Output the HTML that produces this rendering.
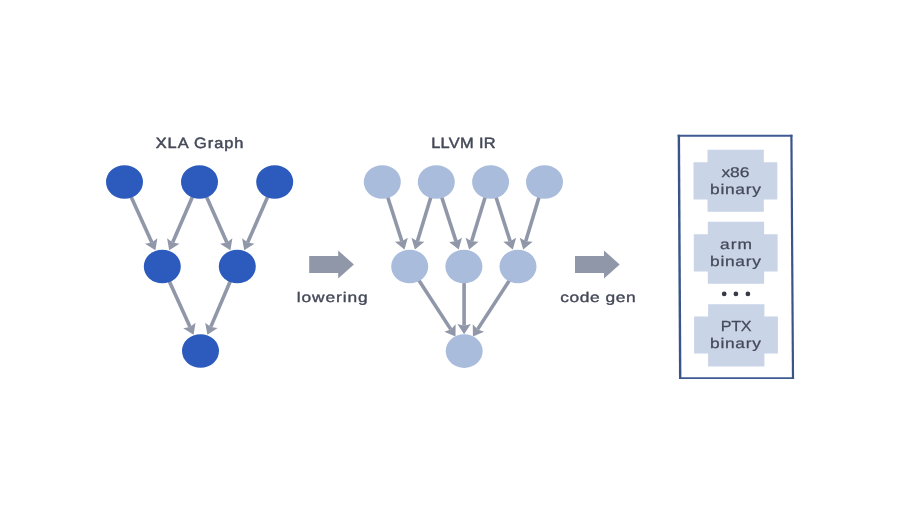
<!DOCTYPE html>
<html><head><meta charset="utf-8"><title>XLA compilation</title>
<style>
html,body{margin:0;padding:0;background:#fff;}
body{width:900px;height:507px;overflow:hidden;}
svg{display:block;}
text{font-family:"Liberation Sans",sans-serif;text-rendering:geometricPrecision;fill:#444958;stroke:#444958;stroke-width:0.45;stroke-linejoin:round;}
.t{will-change:transform;}
</style></head><body>
<svg width="900" height="507" viewBox="0 0 900 507">
<rect width="900" height="507" fill="#ffffff"/>
<line x1="130.74" y1="196.00" x2="151.84" y2="242.47" stroke="#9097a8" stroke-width="3.6"/><polygon points="155.40,250.30 145.04,243.80 151.84,242.47 157.33,238.22" fill="#9097a8"/>
<line x1="192.80" y1="196.00" x2="172.63" y2="242.41" stroke="#9097a8" stroke-width="3.6"/><polygon points="169.20,250.30 167.08,238.25 172.63,242.41 179.46,243.64" fill="#9097a8"/>
<line x1="206.16" y1="196.00" x2="226.89" y2="242.45" stroke="#9097a8" stroke-width="3.6"/><polygon points="230.40,250.30 220.08,243.74 226.89,242.45 232.41,238.23" fill="#9097a8"/>
<line x1="268.02" y1="196.00" x2="247.65" y2="242.42" stroke="#9097a8" stroke-width="3.6"/><polygon points="244.20,250.30 242.12,238.25 247.65,242.42 254.48,243.67" fill="#9097a8"/>
<line x1="168.94" y1="280.50" x2="190.04" y2="326.97" stroke="#9097a8" stroke-width="3.6"/><polygon points="193.60,334.80 183.24,328.30 190.04,326.97 195.53,322.72" fill="#9097a8"/>
<line x1="230.58" y1="280.50" x2="210.78" y2="326.89" stroke="#9097a8" stroke-width="3.6"/><polygon points="207.40,334.80 205.20,322.77 210.78,326.89 217.61,328.07" fill="#9097a8"/>
<ellipse cx="124.5" cy="182" rx="18.5" ry="16.8" fill="#2c5bbd"/>
<ellipse cx="199.5" cy="182" rx="18.5" ry="16.8" fill="#2c5bbd"/>
<ellipse cx="274.7" cy="182" rx="18.5" ry="16.8" fill="#2c5bbd"/>
<ellipse cx="162.3" cy="266.5" rx="18.5" ry="16.8" fill="#2c5bbd"/>
<ellipse cx="237.3" cy="266.5" rx="18.5" ry="16.8" fill="#2c5bbd"/>
<ellipse cx="200.5" cy="351" rx="18.5" ry="16.8" fill="#2c5bbd"/>
<line x1="387.34" y1="196.00" x2="401.87" y2="241.31" stroke="#9097a8" stroke-width="3.6"/><polygon points="404.50,249.50 394.96,241.85 401.87,241.31 407.81,237.73" fill="#9097a8"/>
<line x1="431.21" y1="196.00" x2="417.41" y2="241.27" stroke="#9097a8" stroke-width="3.6"/><polygon points="414.90,249.50 411.42,237.77 417.41,241.27 424.33,241.71" fill="#9097a8"/>
<line x1="441.33" y1="196.00" x2="456.04" y2="241.32" stroke="#9097a8" stroke-width="3.6"/><polygon points="458.70,249.50 449.13,241.88 456.04,241.32 461.97,237.71" fill="#9097a8"/>
<line x1="485.52" y1="196.00" x2="471.62" y2="241.28" stroke="#9097a8" stroke-width="3.6"/><polygon points="469.10,249.50 465.64,237.77 471.62,241.28 478.55,241.73" fill="#9097a8"/>
<line x1="495.64" y1="196.00" x2="510.17" y2="241.31" stroke="#9097a8" stroke-width="3.6"/><polygon points="512.80,249.50 503.26,241.85 510.17,241.31 516.11,237.73" fill="#9097a8"/>
<line x1="539.41" y1="196.00" x2="525.69" y2="241.27" stroke="#9097a8" stroke-width="3.6"/><polygon points="523.20,249.50 519.70,237.78 525.69,241.27 532.62,241.70" fill="#9097a8"/>
<line x1="417.70" y1="278.40" x2="450.82" y2="329.39" stroke="#9097a8" stroke-width="3.6"/><polygon points="455.50,336.60 444.28,331.72 450.82,329.39 455.61,324.37" fill="#9097a8"/>
<line x1="464.10" y1="280.00" x2="464.10" y2="325.70" stroke="#9097a8" stroke-width="3.6"/><polygon points="464.10,334.30 457.35,324.10 464.10,325.70 470.85,324.10" fill="#9097a8"/>
<line x1="510.70" y1="278.40" x2="477.58" y2="329.39" stroke="#9097a8" stroke-width="3.6"/><polygon points="472.90,336.60 472.79,324.37 477.58,329.39 484.12,331.72" fill="#9097a8"/>
<ellipse cx="382.3" cy="182" rx="18.5" ry="16.8" fill="#a9bcdc"/>
<ellipse cx="436.3" cy="182" rx="18.5" ry="16.8" fill="#a9bcdc"/>
<ellipse cx="490.6" cy="182" rx="18.5" ry="16.8" fill="#a9bcdc"/>
<ellipse cx="544.5" cy="182" rx="18.5" ry="16.8" fill="#a9bcdc"/>
<ellipse cx="409.7" cy="266.5" rx="18.5" ry="16.8" fill="#a9bcdc"/>
<ellipse cx="463.9" cy="266.5" rx="18.5" ry="16.8" fill="#a9bcdc"/>
<ellipse cx="518" cy="266.5" rx="18.5" ry="16.8" fill="#a9bcdc"/>
<ellipse cx="464.2" cy="351.1" rx="18.5" ry="16.8" fill="#a9bcdc"/>
<polygon points="309.2,256 338.2,256 338.2,250.5 353.9,264.5 338.2,278.6 338.2,273 309.2,273" fill="#9097a8"/>
<polygon points="575.0,256 604.0,256 604.0,250.5 619.7,264.5 604.0,278.6 604.0,273 575.0,273" fill="#9097a8"/>
<line x1="677.7" y1="135.85" x2="792.45" y2="135.85" stroke="#3d5a92" stroke-width="2.0"/>
<line x1="679.2" y1="378.1" x2="794.1" y2="378.1" stroke="#3d5a92" stroke-width="1.6"/>
<line x1="678.85" y1="134.85" x2="680.2" y2="378.9" stroke="#3a548a" stroke-width="2.4"/>
<line x1="791.4" y1="134.85" x2="793.0" y2="378.9" stroke="#3a548a" stroke-width="2.2"/>
<polygon points="707.5,149.8 763.8,149.8 763.8,162.20000000000002 777.3,162.20000000000002 777.3,199.60000000000002 763.8,199.60000000000002 763.8,211.8 707.5,211.8 707.5,199.60000000000002 693.5,199.60000000000002 693.5,162.20000000000002 707.5,162.20000000000002" fill="#c9d4e7"/>
<polygon points="707.8,221.8 764.0999999999999,221.8 764.0999999999999,234.20000000000002 777.5999999999999,234.20000000000002 777.5999999999999,271.6 764.0999999999999,271.6 764.0999999999999,283.8 707.8,283.8 707.8,271.6 693.8,271.6 693.8,234.20000000000002 707.8,234.20000000000002" fill="#c9d4e7"/>
<polygon points="708.1,304.3 764.4,304.3 764.4,316.5 777.9,316.5 777.9,353.6 764.4,353.6 764.4,366.6 708.1,366.6 708.1,353.6 694.1,353.6 694.1,316.5 708.1,316.5" fill="#c9d4e7"/>
<circle cx="724.2" cy="293.9" r="2.35" fill="#363a45"/>
<circle cx="735.9" cy="293.9" r="2.35" fill="#363a45"/>
<circle cx="747.9" cy="293.9" r="2.35" fill="#363a45"/>
<g class="t">
<text transform="translate(155.75,147.7) scale(1.1,1)" x="0" y="0" font-size="14.9" style="stroke-width:0.48" textLength="79.67" lengthAdjust="spacing">XLA Graph</text>
<text transform="translate(431.15,147.7) scale(1.1,1)" x="0" y="0" font-size="14.9" style="stroke-width:0.48" textLength="58.63" lengthAdjust="spacing">LLVM IR</text>
<text transform="translate(296.68,301.6) scale(1.24,1)" x="0" y="0" font-size="14.0" style="stroke-width:0.35" textLength="57.34" lengthAdjust="spacing">lowering</text>
<text transform="translate(560.27,301.6) scale(1.24,1)" x="0" y="0" font-size="14.0" style="stroke-width:0.35" textLength="60.85" lengthAdjust="spacing">code gen</text>
<text transform="translate(721.50,176.7) scale(1.24,1)" x="0" y="0" font-size="14.1" style="stroke-width:0.25" textLength="22.56" lengthAdjust="spacing">x86</text>
<text transform="translate(710.05,193.7) scale(1.24,1)" x="0" y="0" font-size="14.0" style="stroke-width:0.25" textLength="40.98" lengthAdjust="spacing">binary</text>
<text transform="translate(720.02,248.8) scale(1.24,1)" x="0" y="0" font-size="14.0" style="stroke-width:0.25" textLength="25.81" lengthAdjust="spacing">arm</text>
<text transform="translate(710.05,265.7) scale(1.24,1)" x="0" y="0" font-size="14.0" style="stroke-width:0.25" textLength="40.98" lengthAdjust="spacing">binary</text>
<text transform="translate(720.85,330.5) scale(1.1,1)" x="0" y="0" font-size="14.7" style="stroke-width:0.25" textLength="27.89" lengthAdjust="spacing">PTX</text>
<text transform="translate(710.05,347.5) scale(1.24,1)" x="0" y="0" font-size="14.0" style="stroke-width:0.25" textLength="40.98" lengthAdjust="spacing">binary</text>
</g>
</svg>
</body></html>
